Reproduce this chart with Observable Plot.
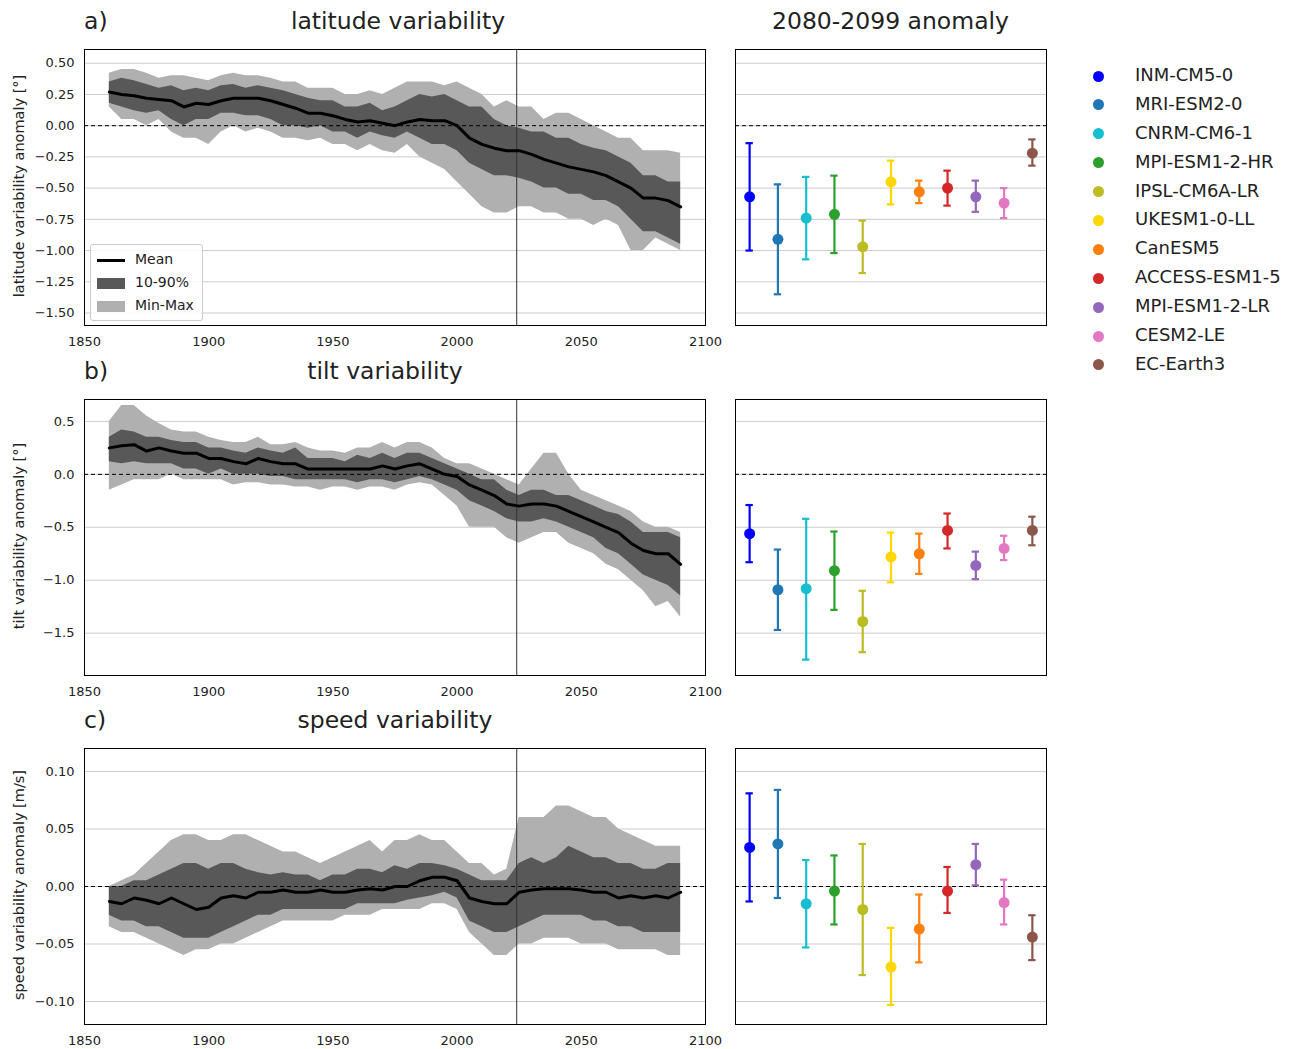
<!DOCTYPE html>
<html><head><meta charset="utf-8">
<script src="https://cdn.jsdelivr.net/npm/d3@7"></script>
<script src="https://cdn.jsdelivr.net/npm/@observablehq/plot@0.6"></script>
<style>
body{margin:0;background:#fff;font-family:"DejaVu Sans",sans-serif;}
#wrap{position:relative;width:1304px;height:1049px;}
.abs{position:absolute;}
.t{font-size:23.5px;color:#222;white-space:nowrap}
svg{overflow:visible}
</style></head><body><div id="wrap"></div>
<script>
const years=[1860,1865,1870,1875,1880,1885,1890,1895,1900,1905,1910,1915,1920,1925,1930,1935,1940,1945,1950,1955,1960,1965,1970,1975,1980,1985,1990,1995,2000,2005,2010,2015,2020,2025,2030,2035,2040,2045,2050,2055,2060,2065,2070,2075,2080,2085,2090];
const latMean=[0.27,0.25,0.24,0.22,0.21,0.2,0.15,0.18,0.17,0.2,0.22,0.22,0.22,0.2,0.17,0.14,0.1,0.1,0.08,0.05,0.03,0.04,0.02,0.0,0.03,0.05,0.04,0.04,0.0,-0.1,-0.15,-0.18,-0.2,-0.2,-0.23,-0.27,-0.3,-0.33,-0.35,-0.37,-0.4,-0.45,-0.5,-0.58,-0.58,-0.6,-0.65];
const latP90=[0.35,0.38,0.36,0.33,0.3,0.32,0.28,0.3,0.28,0.32,0.33,0.3,0.32,0.3,0.28,0.25,0.22,0.2,0.2,0.15,0.15,0.18,0.12,0.15,0.2,0.25,0.23,0.25,0.2,0.15,0.15,0.05,0.0,-0.02,-0.05,-0.05,-0.1,-0.1,-0.15,-0.18,-0.2,-0.25,-0.3,-0.4,-0.4,-0.45,-0.45];
const latP10=[0.18,0.15,0.12,0.1,0.12,0.05,0.0,0.05,0.05,0.1,0.1,0.08,0.08,0.05,0.0,0.0,-0.02,0.0,-0.05,-0.05,-0.1,-0.05,-0.08,-0.1,-0.05,-0.1,-0.15,-0.15,-0.2,-0.3,-0.35,-0.4,-0.4,-0.42,-0.45,-0.5,-0.5,-0.55,-0.55,-0.6,-0.6,-0.65,-0.75,-0.85,-0.85,-0.9,-0.95];
const latMax=[0.42,0.45,0.45,0.42,0.38,0.4,0.4,0.38,0.36,0.4,0.42,0.4,0.4,0.38,0.35,0.35,0.3,0.3,0.3,0.25,0.25,0.28,0.25,0.3,0.35,0.35,0.35,0.32,0.35,0.3,0.25,0.15,0.2,0.15,0.15,0.05,0.1,0.1,0.05,0.0,-0.05,-0.1,-0.1,-0.2,-0.2,-0.2,-0.22];
const latMin=[0.15,0.05,0.05,0.0,0.05,-0.05,-0.1,-0.1,-0.15,-0.05,0.0,-0.05,-0.02,-0.05,-0.1,-0.1,-0.12,-0.1,-0.15,-0.15,-0.2,-0.15,-0.2,-0.22,-0.15,-0.25,-0.3,-0.35,-0.45,-0.55,-0.65,-0.7,-0.7,-0.65,-0.65,-0.7,-0.7,-0.75,-0.75,-0.8,-0.75,-0.8,-1.0,-1.0,-0.9,-0.95,-1.0];
const tiltMean=[0.25,0.27,0.28,0.22,0.25,0.22,0.2,0.2,0.15,0.15,0.12,0.1,0.15,0.12,0.1,0.1,0.05,0.05,0.05,0.05,0.05,0.05,0.08,0.05,0.08,0.1,0.05,0.0,-0.02,-0.1,-0.15,-0.2,-0.28,-0.3,-0.28,-0.28,-0.3,-0.35,-0.4,-0.45,-0.5,-0.55,-0.65,-0.72,-0.75,-0.75,-0.85];
const tiltP90=[0.35,0.42,0.4,0.35,0.35,0.32,0.3,0.3,0.25,0.25,0.22,0.2,0.25,0.22,0.2,0.25,0.15,0.15,0.15,0.12,0.18,0.15,0.2,0.15,0.2,0.2,0.15,0.1,0.05,0.0,-0.05,-0.05,-0.15,-0.2,-0.15,-0.15,-0.2,-0.2,-0.25,-0.3,-0.35,-0.38,-0.45,-0.55,-0.55,-0.55,-0.6];
const tiltP10=[0.12,0.1,0.12,0.1,0.1,0.1,0.05,0.05,0.0,0.05,0.0,0.0,0.0,-0.02,-0.02,-0.05,-0.05,-0.05,-0.05,-0.05,-0.08,-0.05,-0.05,-0.08,-0.05,-0.02,-0.05,-0.1,-0.15,-0.25,-0.3,-0.35,-0.42,-0.45,-0.45,-0.42,-0.45,-0.5,-0.55,-0.6,-0.7,-0.75,-0.85,-0.95,-1.0,-1.05,-1.15];
const tiltMax=[0.5,0.65,0.65,0.55,0.48,0.42,0.4,0.4,0.35,0.32,0.3,0.3,0.35,0.28,0.28,0.3,0.25,0.22,0.22,0.2,0.25,0.25,0.3,0.25,0.3,0.3,0.25,0.15,0.1,0.1,0.05,0.0,-0.05,-0.1,0.05,0.2,0.2,0.0,-0.15,-0.2,-0.25,-0.3,-0.35,-0.45,-0.5,-0.5,-0.55];
const tiltMin=[-0.15,-0.1,-0.05,-0.05,-0.05,0.0,-0.05,-0.05,-0.05,-0.05,-0.1,-0.08,-0.08,-0.1,-0.1,-0.12,-0.12,-0.15,-0.12,-0.12,-0.15,-0.12,-0.12,-0.15,-0.1,-0.08,-0.1,-0.2,-0.3,-0.5,-0.5,-0.5,-0.6,-0.65,-0.6,-0.55,-0.55,-0.65,-0.7,-0.75,-0.85,-0.9,-1.0,-1.1,-1.25,-1.2,-1.35];
const spdMean=[-0.013,-0.015,-0.01,-0.012,-0.015,-0.01,-0.015,-0.02,-0.018,-0.01,-0.008,-0.01,-0.005,-0.005,-0.003,-0.005,-0.005,-0.003,-0.005,-0.005,-0.003,-0.002,-0.003,0.0,0.0,0.005,0.008,0.008,0.005,-0.01,-0.013,-0.015,-0.015,-0.005,-0.003,-0.002,-0.002,-0.002,-0.003,-0.005,-0.005,-0.01,-0.008,-0.01,-0.008,-0.01,-0.005];
const spdP90=[0.0,0.0,0.005,0.005,0.01,0.015,0.02,0.02,0.015,0.02,0.02,0.015,0.012,0.01,0.012,0.01,0.01,0.005,0.01,0.01,0.015,0.015,0.012,0.018,0.015,0.02,0.02,0.018,0.015,0.01,0.005,0.005,0.005,0.02,0.025,0.02,0.025,0.035,0.03,0.025,0.025,0.02,0.02,0.015,0.015,0.02,0.02];
const spdP10=[-0.025,-0.03,-0.03,-0.035,-0.035,-0.04,-0.045,-0.045,-0.045,-0.04,-0.035,-0.03,-0.025,-0.025,-0.02,-0.02,-0.02,-0.02,-0.02,-0.02,-0.015,-0.015,-0.015,-0.015,-0.012,-0.01,-0.008,-0.005,-0.01,-0.03,-0.035,-0.04,-0.04,-0.035,-0.03,-0.025,-0.025,-0.025,-0.025,-0.03,-0.03,-0.035,-0.035,-0.04,-0.04,-0.04,-0.04];
const spdMax=[0.0,0.005,0.01,0.02,0.03,0.04,0.045,0.045,0.04,0.04,0.045,0.045,0.04,0.035,0.03,0.03,0.025,0.02,0.025,0.03,0.035,0.04,0.03,0.04,0.04,0.045,0.04,0.04,0.03,0.02,0.02,0.01,0.015,0.06,0.06,0.06,0.07,0.07,0.065,0.06,0.06,0.05,0.045,0.04,0.035,0.035,0.035];
const spdMin=[-0.035,-0.04,-0.04,-0.045,-0.05,-0.055,-0.06,-0.055,-0.055,-0.05,-0.05,-0.045,-0.04,-0.035,-0.03,-0.03,-0.03,-0.03,-0.03,-0.025,-0.025,-0.025,-0.02,-0.02,-0.02,-0.02,-0.015,-0.015,-0.02,-0.04,-0.05,-0.06,-0.06,-0.05,-0.05,-0.045,-0.045,-0.045,-0.05,-0.05,-0.05,-0.055,-0.055,-0.055,-0.055,-0.06,-0.06];
const models=["INM-CM5-0","MRI-ESM2-0","CNRM-CM6-1","MPI-ESM1-2-HR","IPSL-CM6A-LR","UKESM1-0-LL","CanESM5","ACCESS-ESM1-5","MPI-ESM1-2-LR","CESM2-LE","EC-Earth3"];
const colors=["#0000ff","#1f77b4","#17becf","#2ca02c","#bcbd22","#ffd700","#ff7f0e","#d62728","#9467bd","#e377c2","#8c564b"];
const latAnom=[-0.57,-0.91,-0.74,-0.71,-0.97,-0.45,-0.53,-0.5,-0.57,-0.62,-0.22];
const latLo=[-1.0,-1.35,-1.07,-1.02,-1.18,-0.63,-0.62,-0.64,-0.69,-0.74,-0.32];
const latHi=[-0.14,-0.47,-0.41,-0.40,-0.76,-0.28,-0.44,-0.36,-0.44,-0.5,-0.11];
const tiltAnom=[-0.56,-1.09,-1.08,-0.91,-1.39,-0.78,-0.75,-0.53,-0.86,-0.7,-0.53];
const tiltLo=[-0.83,-1.47,-1.75,-1.28,-1.68,-1.02,-0.94,-0.7,-0.99,-0.81,-0.67];
const tiltHi=[-0.29,-0.71,-0.42,-0.54,-1.1,-0.55,-0.56,-0.37,-0.73,-0.58,-0.4];
const spdAnom=[0.034,0.037,-0.015,-0.004,-0.02,-0.07,-0.037,-0.004,0.019,-0.014,-0.044];
const spdLo=[-0.013,-0.01,-0.053,-0.033,-0.077,-0.103,-0.066,-0.023,0.001,-0.033,-0.064];
const spdHi=[0.081,0.084,0.023,0.027,0.037,-0.036,-0.007,0.017,0.037,0.006,-0.025];

const wrap=document.getElementById("wrap");
function place(el,left,top){el.style.position="absolute";el.style.left=left+"px";el.style.top=top+"px";wrap.appendChild(el);return el;}
function text(str,left,top,style){const d=document.createElement("div");d.className="abs t";d.textContent=str;Object.assign(d.style,style||{});return place(d,left,top);}

const rows=[
 {top:49,label:"a)",title:"latitude variability",tc:398,ylab:"latitude variability anomaly [°]",dom:[-1.6,0.61],ticks:[-1.5,-1.25,-1,-0.75,-0.5,-0.25,0,0.25,0.5],fmt:".2f",mean:latMean,p10:latP10,p90:latP90,mn:latMin,mx:latMax,an:latAnom,lo:latLo,hi:latHi},
 {top:399,label:"b)",title:"tilt variability",tc:385,ylab:"tilt variability anomaly [°]",dom:[-1.9,0.707],ticks:[-1.5,-1,-0.5,0,0.5],fmt:".1f",mean:tiltMean,p10:tiltP10,p90:tiltP90,mn:tiltMin,mx:tiltMax,an:tiltAnom,lo:tiltLo,hi:tiltHi},
 {top:748,label:"c)",title:"speed variability",tc:395,ylab:"speed variability anomaly [m/s]",dom:[-0.12,0.12],ticks:[-0.1,-0.05,0,0.05,0.1],fmt:".2f",mean:spdMean,p10:spdP10,p90:spdP90,mn:spdMin,mx:spdMax,an:spdAnom,lo:spdLo,hi:spdHi}
];
const H=276, mt=10, mb=30;
rows.forEach((r,ri)=>{
  const ts=years.map((y,i)=>({y,mean:r.mean[i],p10:r.p10[i],p90:r.p90[i],mn:r.mn[i],mx:r.mx[i]}));
  const f=d3.format(r.fmt);
  const left=Plot.plot({
    width:720,height:H+mt+mb,marginLeft:84,marginRight:15,marginTop:mt,marginBottom:mb,
    style:{fontFamily:"DejaVu Sans",fontSize:"13px",color:"#222",background:"transparent"},
    x:{domain:[1850,2100],ticks:[1850,1900,1950,2000,2050,2100],tickFormat:d=>String(d),tickSize:0,tickPadding:11,label:null},
    y:{domain:r.dom,ticks:r.ticks,tickFormat:f,tickSize:0,tickPadding:10,label:null},
    marks:[
      Plot.gridY(r.ticks,{stroke:"#ccc",strokeOpacity:1}),
      Plot.areaY(ts,{x:"y",y1:"mn",y2:"mx",fill:"#b0b0b0"}),
      Plot.areaY(ts,{x:"y",y1:"p10",y2:"p90",fill:"#585858"}),
      Plot.ruleY([0],{stroke:"#000",strokeDasharray:"4,3",strokeWidth:1}),
      Plot.ruleX([2024],{stroke:"#333",strokeWidth:1}),
      Plot.lineY(ts,{x:"y",y:"mean",stroke:"#000",strokeWidth:3}),
      Plot.frame({stroke:"#000"})
    ]
  });
  place(left,0,r.top-mt);
  const md=models.map((m,i)=>({i,m,c:colors[i],v:r.an[i],lo:r.lo[i],hi:r.hi[i],a:i-0.13,b:i+0.13}));
  const right=Plot.plot({
    width:340,height:H+mt+mb,marginLeft:15,marginRight:14,marginTop:mt,marginBottom:mb,
    style:{fontFamily:"DejaVu Sans",fontSize:"13px",background:"transparent"},
    x:{domain:[-0.5,10.5],axis:null},
    y:{domain:r.dom,axis:null},
    color:{type:"identity"},
    marks:[
      Plot.gridY(r.ticks,{stroke:"#ccc",strokeOpacity:1}),
      Plot.ruleY([0],{stroke:"#000",strokeDasharray:"4,3",strokeWidth:1}),
      Plot.ruleX(md,{x:"i",y1:"lo",y2:"hi",stroke:"c",strokeWidth:2.2}),
      Plot.ruleY(md,{y:"lo",x1:"a",x2:"b",stroke:"c",strokeWidth:2.2}),
      Plot.ruleY(md,{y:"hi",x1:"a",x2:"b",stroke:"c",strokeWidth:2.2}),
      Plot.dot(md,{x:"i",y:"v",fill:"c",r:5.5}),
      Plot.frame({stroke:"#000"})
    ]
  });
  place(right,720,r.top-mt);
  text(r.label,84,r.top-49+7);
  text(r.title,r.tc-300,r.top-49+7,{width:"600px",textAlign:"center"});
  const yl=document.createElement("div");yl.className="abs";yl.textContent=r.ylab;
  Object.assign(yl.style,{fontSize:"14.5px",color:"#222",whiteSpace:"nowrap",width:"276px",textAlign:"center",transform:"rotate(-90deg)",transformOrigin:"center"});
  place(yl,19-138,r.top+138-9);
});
text("2080-2099 anomaly",735,7,{width:"311px",textAlign:"center"});

const lg=document.createElement("div");
lg.innerHTML=`<div style="border:1px solid #ccc;border-radius:3px;background:rgba(255,255,255,0.85);padding:3px 8px 3px 6px;font-size:14px;color:#222;line-height:23px">
<div><span style="display:inline-block;width:28px;height:3px;background:#000;vertical-align:middle;margin-right:10px"></span>Mean</div>
<div><span style="display:inline-block;width:28px;height:11px;background:#585858;vertical-align:middle;margin-right:10px"></span>10-90%</div>
<div><span style="display:inline-block;width:28px;height:11px;background:#b0b0b0;vertical-align:middle;margin-right:10px"></span>Min-Max</div></div>`;
place(lg,90,244);
const ml=document.createElement("div");
ml.innerHTML=models.map((m,i)=>`<div style="height:28.9px;line-height:28.9px;font-size:18px;color:#222;white-space:nowrap"><span style="display:inline-block;width:11px;height:11px;border-radius:50%;background:${colors[i]};margin-right:31px;vertical-align:middle"></span>${m}</div>`).join("");
place(ml,1093,61);
</script>
</body></html>
